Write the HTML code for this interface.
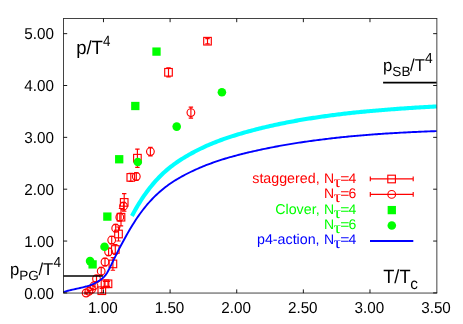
<!DOCTYPE html>
<html><head><meta charset="utf-8"><title>p/T^4</title>
<style>html,body{margin:0;padding:0;background:#fff;}svg{display:block;will-change:transform;}text{font-family:"Liberation Sans",sans-serif;text-rendering:geometricPrecision;}</style>
</head><body>
<svg width="463" height="324" viewBox="0 0 463 324">
<rect x="0" y="0" width="463" height="324" fill="#fff"/>
<polyline points="131.9,215.97 133.4,213.19 134.9,210.48 136.4,207.86 137.9,205.32 139.4,202.86 140.9,200.49 142.4,198.19 143.9,195.96 145.4,193.81 146.9,191.74 148.4,189.73 149.9,187.79 151.4,185.92 152.9,184.11 154.4,182.37 155.9,180.68 157.4,179.06 158.9,177.49 160.4,175.97 161.9,174.51 163.4,173.09 164.9,171.73 166.4,170.41 167.9,169.13 169.4,167.90 170.9,166.71 172.4,165.55 173.9,164.44 175.4,163.35 176.9,162.30 178.4,161.28 179.9,160.29 181.4,159.32 182.9,158.38 184.4,157.46 185.9,156.56 187.4,155.68 188.9,154.82 190.4,153.97 191.9,153.14 193.4,152.33 194.9,151.54 196.4,150.76 197.9,150.00 199.4,149.25 200.9,148.52 202.4,147.80 203.9,147.10 205.4,146.41 206.9,145.74 208.4,145.08 209.9,144.43 211.4,143.80 212.9,143.18 214.4,142.57 215.9,141.98 217.4,141.40 218.9,140.82 220.4,140.26 221.9,139.71 223.4,139.17 224.9,138.64 226.4,138.13 227.9,137.62 229.4,137.12 230.9,136.62 232.4,136.14 233.9,135.67 235.4,135.20 236.9,134.74 238.4,134.29 239.9,133.85 241.4,133.41 242.9,132.98 244.4,132.56 245.9,132.14 247.4,131.72 248.9,131.31 250.4,130.91 251.9,130.51 253.4,130.12 254.9,129.73 256.4,129.34 257.9,128.96 259.4,128.59 260.9,128.22 262.4,127.85 263.9,127.49 265.4,127.13 266.9,126.78 268.4,126.43 269.9,126.09 271.4,125.75 272.9,125.41 274.4,125.08 275.9,124.76 277.4,124.43 278.9,124.12 280.4,123.80 281.9,123.49 283.4,123.19 284.9,122.89 286.4,122.59 287.9,122.30 289.4,122.01 290.9,121.72 292.4,121.44 293.9,121.16 295.4,120.89 296.9,120.62 298.4,120.35 299.9,120.09 301.4,119.83 302.9,119.58 304.4,119.33 305.9,119.08 307.4,118.84 308.9,118.60 310.4,118.36 311.9,118.13 313.4,117.90 314.9,117.68 316.4,117.45 317.9,117.23 319.4,117.02 320.9,116.80 322.4,116.58 323.9,116.36 325.4,116.14 326.9,115.93 328.4,115.72 329.9,115.52 331.4,115.32 332.9,115.12 334.4,114.92 335.9,114.73 337.4,114.54 338.9,114.35 340.4,114.17 341.9,113.99 343.4,113.81 344.9,113.63 346.4,113.46 347.9,113.29 349.4,113.13 350.9,112.96 352.4,112.80 353.9,112.64 355.4,112.49 356.9,112.33 358.4,112.18 359.9,112.03 361.4,111.89 362.9,111.74 364.4,111.60 365.9,111.47 367.4,111.33 368.9,111.20 370.4,111.07 371.9,110.94 373.4,110.81 374.9,110.69 376.4,110.56 377.9,110.44 379.4,110.33 380.9,110.20 382.4,110.07 383.9,109.94 385.4,109.81 386.9,109.69 388.4,109.57 389.9,109.44 391.4,109.33 392.9,109.21 394.4,109.09 395.9,108.98 397.4,108.87 398.9,108.76 400.4,108.65 401.9,108.54 403.4,108.44 404.9,108.34 406.4,108.23 407.9,108.13 409.4,108.03 410.9,107.94 412.4,107.84 413.9,107.75 415.4,107.66 416.9,107.56 418.4,107.48 419.9,107.39 421.4,107.30 422.9,107.21 424.4,107.13 425.9,107.05 427.4,106.96 428.9,106.88 430.4,106.80 431.9,106.72 433.4,106.65 434.9,106.57 436.4,106.49 436.6,106.48" fill="none" stroke="#00ffff" stroke-width="4.1" stroke-linejoin="round"/>
<g stroke="#ff0000" stroke-width="1.15" fill="none">
<rect x="98.00" y="286.90" width="7.60" height="7.60"/><path d="M101.80 288.50 V292.90 M99.60 288.50 h4.40 M99.60 292.90 h4.40"/>
<rect x="101.20" y="280.00" width="7.60" height="7.60"/><path d="M105.00 281.30 V286.30 M102.80 281.30 h4.40 M102.80 286.30 h4.40"/>
<rect x="104.20" y="280.00" width="7.60" height="7.60"/><path d="M108.00 281.30 V286.30 M105.80 281.30 h4.40 M105.80 286.30 h4.40"/>
<rect x="109.10" y="260.10" width="7.60" height="7.60"/><path d="M112.90 257.60 V270.20 M110.70 257.60 h4.40 M110.70 270.20 h4.40"/>
<rect x="111.50" y="245.70" width="7.60" height="7.60"/><path d="M115.30 244.50 V254.50 M113.10 244.50 h4.40 M113.10 254.50 h4.40"/>
<rect x="114.70" y="230.20" width="7.60" height="7.60"/><path d="M118.50 227.00 V241.00 M116.30 227.00 h4.40 M116.30 241.00 h4.40"/>
<rect x="117.20" y="213.40" width="7.60" height="7.60"/><path d="M121.00 208.50 V225.90 M118.80 208.50 h4.40 M118.80 225.90 h4.40"/>
<rect x="120.40" y="198.60" width="7.60" height="7.60"/><path d="M124.20 193.60 V211.20 M122.00 193.60 h4.40 M122.00 211.20 h4.40"/>
<rect x="127.00" y="173.60" width="7.60" height="7.60"/><path d="M130.80 173.40 V181.40 M128.60 173.40 h4.40 M128.60 181.40 h4.40"/>
<rect x="133.60" y="154.40" width="7.60" height="7.60"/><path d="M137.40 149.10 V167.30 M135.20 149.10 h4.40 M135.20 167.30 h4.40"/>
<rect x="164.70" y="68.50" width="7.60" height="7.60"/><path d="M168.50 67.80 V76.80 M166.30 67.80 h4.40 M166.30 76.80 h4.40"/>
<rect x="203.70" y="37.40" width="7.60" height="7.60"/><path d="M207.50 38.60 V43.80 M205.30 38.60 h4.40 M205.30 43.80 h4.40"/>
<circle cx="86.10" cy="293.00" r="3.85"/><path d="M86.10 292.20 V293.80 M83.90 292.20 h4.40 M83.90 293.80 h4.40"/>
<circle cx="88.90" cy="291.30" r="3.85"/><path d="M88.90 290.50 V292.10 M86.70 290.50 h4.40 M86.70 292.10 h4.40"/>
<circle cx="91.60" cy="289.30" r="3.85"/><path d="M91.60 288.50 V290.10 M89.40 288.50 h4.40 M89.40 290.10 h4.40"/>
<circle cx="94.00" cy="285.80" r="3.85"/><path d="M94.00 284.80 V286.80 M91.80 284.80 h4.40 M91.80 286.80 h4.40"/>
<circle cx="96.50" cy="278.70" r="3.85"/><path d="M96.50 275.70 V281.70 M94.30 275.70 h4.40 M94.30 281.70 h4.40"/>
<circle cx="101.20" cy="271.20" r="3.85"/><path d="M101.20 267.40 V275.00 M99.00 267.40 h4.40 M99.00 275.00 h4.40"/>
<circle cx="105.00" cy="262.00" r="3.85"/><path d="M105.00 258.20 V265.80 M102.80 258.20 h4.40 M102.80 265.80 h4.40"/>
<circle cx="108.60" cy="251.80" r="3.85"/><path d="M108.60 248.00 V255.60 M106.40 248.00 h4.40 M106.40 255.60 h4.40"/>
<circle cx="111.70" cy="240.10" r="3.85"/><path d="M111.70 236.30 V243.90 M109.50 236.30 h4.40 M109.50 243.90 h4.40"/>
<circle cx="115.70" cy="228.20" r="3.85"/><path d="M115.70 224.40 V232.00 M113.50 224.40 h4.40 M113.50 232.00 h4.40"/>
<circle cx="119.80" cy="217.20" r="3.85"/><path d="M119.80 213.40 V221.00 M117.60 213.40 h4.40 M117.60 221.00 h4.40"/>
<circle cx="123.50" cy="206.20" r="3.85"/><path d="M123.50 202.40 V210.00 M121.30 202.40 h4.40 M121.30 210.00 h4.40"/>
<circle cx="136.30" cy="176.50" r="3.85"/><path d="M136.30 172.70 V180.30 M134.10 172.70 h4.40 M134.10 180.30 h4.40"/>
<circle cx="150.40" cy="151.60" r="3.85"/><path d="M150.40 147.30 V155.90 M148.20 147.30 h4.40 M148.20 155.90 h4.40"/>
<circle cx="190.90" cy="112.60" r="3.85"/><path d="M190.90 107.10 V118.10 M188.70 107.10 h4.40 M188.70 118.10 h4.40"/>
</g>
<g fill="#00ff00">
<rect x="88.45" y="260.25" width="8.3" height="8.3"/>
<rect x="103.20" y="212.45" width="8.3" height="8.3"/>
<rect x="115.05" y="155.10" width="8.3" height="8.3"/>
<rect x="131.15" y="101.85" width="8.3" height="8.3"/>
<rect x="152.35" y="47.45" width="8.3" height="8.3"/>
<circle cx="90.06" cy="261.10" r="4.3"/>
<circle cx="104.50" cy="246.70" r="4.3"/>
<circle cx="137.80" cy="162.00" r="4.3"/>
<circle cx="176.70" cy="126.60" r="4.3"/>
<circle cx="221.90" cy="92.20" r="4.3"/>
</g>
<path d="M383.1 82.65 H436.6" stroke="#000" stroke-width="1.7"/>
<path d="M63.5 276.0 H102.9" stroke="#000" stroke-width="1.5"/>
<polyline points="63.5,292.06 65.0,291.57 66.5,291.12 68.0,290.71 69.5,290.33 71.0,289.97 72.5,289.63 74.0,289.31 75.5,288.99 77.0,288.67 78.5,288.35 80.0,288.02 81.5,287.68 83.0,287.32 84.5,286.93 86.0,286.51 87.5,286.06 89.0,285.56 90.5,285.02 92.0,284.43 93.5,283.77 95.0,283.06 96.5,282.28 98.0,281.42 99.5,280.48 101.0,279.46 102.5,278.28 104.0,276.87 105.5,275.12 107.0,272.95 108.5,270.34 110.0,267.39 111.5,264.34 113.0,261.21 114.5,258.11 116.0,255.06 117.5,252.07 119.0,249.14 120.5,246.26 122.0,243.45 123.5,240.70 125.0,238.01 126.5,235.28 128.0,232.62 129.5,230.02 131.0,227.49 132.5,225.03 134.0,222.63 135.5,220.31 137.0,218.06 138.5,215.88 140.0,213.77 141.5,211.73 143.0,209.75 144.5,207.84 146.0,206.00 147.5,204.22 149.0,202.50 150.5,200.83 152.0,199.23 153.5,197.68 155.0,196.18 156.5,194.73 158.0,193.34 159.5,191.99 161.0,190.69 162.5,189.44 164.0,188.22 165.5,187.05 167.0,185.92 168.5,184.82 170.0,183.77 171.5,182.74 173.0,181.75 174.5,180.79 176.0,179.86 177.5,178.95 179.0,178.08 180.5,177.22 182.0,176.39 183.5,175.58 185.0,174.78 186.5,174.01 188.0,173.25 189.5,172.50 191.0,171.77 192.5,171.06 194.0,170.35 195.5,169.67 197.0,169.00 198.5,168.34 200.0,167.69 201.5,167.06 203.0,166.44 204.5,165.84 206.0,165.24 207.5,164.66 209.0,164.09 210.5,163.54 212.0,162.99 213.5,162.45 215.0,161.93 216.5,161.42 218.0,160.91 219.5,160.42 221.0,159.93 222.5,159.46 224.0,158.99 225.5,158.53 227.0,158.09 228.5,157.64 230.0,157.21 231.5,156.79 233.0,156.37 234.5,155.96 236.0,155.56 237.5,155.16 239.0,154.77 240.5,154.38 242.0,154.01 243.5,153.63 245.0,153.26 246.5,152.90 248.0,152.54 249.5,152.19 251.0,151.84 252.5,151.49 254.0,151.15 255.5,150.81 257.0,150.48 258.5,150.15 260.0,149.82 261.5,149.50 263.0,149.18 264.5,148.87 266.0,148.56 267.5,148.26 269.0,147.95 270.5,147.65 272.0,147.36 273.5,147.07 275.0,146.78 276.5,146.50 278.0,146.22 279.5,145.94 281.0,145.67 282.5,145.40 284.0,145.14 285.5,144.88 287.0,144.62 288.5,144.37 290.0,144.11 291.5,143.87 293.0,143.62 294.5,143.38 296.0,143.15 297.5,142.91 299.0,142.68 300.5,142.45 302.0,142.23 303.5,142.01 305.0,141.79 306.5,141.58 308.0,141.37 309.5,141.16 311.0,140.95 312.5,140.75 314.0,140.55 315.5,140.36 317.0,140.16 318.5,139.97 320.0,139.79 321.5,139.59 323.0,139.40 324.5,139.21 326.0,139.02 327.5,138.84 329.0,138.66 330.5,138.48 332.0,138.31 333.5,138.13 335.0,137.96 336.5,137.79 338.0,137.63 339.5,137.47 341.0,137.31 342.5,137.15 344.0,137.00 345.5,136.84 347.0,136.69 348.5,136.55 350.0,136.40 351.5,136.26 353.0,136.12 354.5,135.98 356.0,135.85 357.5,135.71 359.0,135.58 360.5,135.45 362.0,135.33 363.5,135.20 365.0,135.08 366.5,134.96 368.0,134.84 369.5,134.73 371.0,134.61 372.5,134.50 374.0,134.39 375.5,134.28 377.0,134.18 378.5,134.07 380.0,133.97 381.5,133.87 383.0,133.76 384.5,133.66 386.0,133.57 387.5,133.47 389.0,133.37 390.5,133.28 392.0,133.19 393.5,133.10 395.0,133.01 396.5,132.93 398.0,132.84 399.5,132.76 401.0,132.67 402.5,132.59 404.0,132.52 405.5,132.44 407.0,132.36 408.5,132.29 410.0,132.21 411.5,132.14 413.0,132.07 414.5,132.00 416.0,131.93 417.5,131.86 419.0,131.80 420.5,131.73 422.0,131.67 423.5,131.61 425.0,131.54 426.5,131.48 428.0,131.42 429.5,131.36 431.0,131.31 432.5,131.25 434.0,131.19 435.5,131.14 436.6,131.10" fill="none" stroke="#0000ff" stroke-width="1.9" stroke-linejoin="round"/>
<g stroke="#000" stroke-width="0.9" fill="none">
<path stroke-width="0.74" d="M63.10 18.50 H437.25 M63.10 293.05 H437.25 M63.50 18.50 V293.05 M436.85 18.50 V293.05"/>
<path d="M63.5 292.90 h3.7 M436.85 292.90 h-3.7"/>
<path d="M63.5 241.05 h3.7 M436.85 241.05 h-3.7"/>
<path d="M63.5 189.20 h3.7 M436.85 189.20 h-3.7"/>
<path d="M63.5 137.35 h3.7 M436.85 137.35 h-3.7"/>
<path d="M63.5 85.50 h3.7 M436.85 85.50 h-3.7"/>
<path d="M63.5 33.65 h3.7 M436.85 33.65 h-3.7"/>
<path d="M103.48 293.1 v-3.7 M103.48 18.5 v3.7"/>
<path d="M170.10 293.1 v-3.7 M170.10 18.5 v3.7"/>
<path d="M236.73 293.1 v-3.7 M236.73 18.5 v3.7"/>
<path d="M303.35 293.1 v-3.7 M303.35 18.5 v3.7"/>
<path d="M369.98 293.1 v-3.7 M369.98 18.5 v3.7"/>
</g>
<g font-size="15.8" fill="#000">
<text transform="translate(53.9 298.55) scale(0.965 1)" text-anchor="end">0.00</text>
<text transform="translate(53.9 246.70) scale(0.965 1)" text-anchor="end">1.00</text>
<text transform="translate(53.9 194.85) scale(0.965 1)" text-anchor="end">2.00</text>
<text transform="translate(53.9 143.00) scale(0.965 1)" text-anchor="end">3.00</text>
<text transform="translate(53.9 91.15) scale(0.965 1)" text-anchor="end">4.00</text>
<text transform="translate(53.9 39.30) scale(0.965 1)" text-anchor="end">5.00</text>
<text transform="translate(102.88 313.1) scale(0.965 1)" text-anchor="middle">1.00</text>
<text transform="translate(169.50 313.1) scale(0.965 1)" text-anchor="middle">1.50</text>
<text transform="translate(236.13 313.1) scale(0.965 1)" text-anchor="middle">2.00</text>
<text transform="translate(302.75 313.1) scale(0.965 1)" text-anchor="middle">2.50</text>
<text transform="translate(369.38 313.1) scale(0.965 1)" text-anchor="middle">3.00</text>
<text transform="translate(436.00 313.1) scale(0.965 1)" text-anchor="middle">3.50</text>
</g>
<g fill="#000">
<text transform="translate(76.15 54.45) scale(0.970 1)" font-size="19.10">p/T</text>
<text transform="translate(103.12 45.55) scale(0.890 1)" font-size="15.00">4</text>
</g>
<g fill="#000">
<text transform="translate(383.10 70.60) scale(0.970 1)" font-size="17.19">p</text>
<text transform="translate(392.37 76.09) scale(1.020 1)" font-size="13.32">SB</text>
<text transform="translate(410.10 70.60) scale(0.970 1)" font-size="17.19">/T</text>
<text transform="translate(425.12 62.77) scale(0.950 1)" font-size="14.49">4</text>
</g>
<g fill="#000">
<text transform="translate(9.90 274.80) scale(0.970 1)" font-size="17.19">p</text>
<text transform="translate(19.17 280.29) scale(1.020 1)" font-size="13.32">PG</text>
<text transform="translate(38.40 274.80) scale(0.970 1)" font-size="17.19">/T</text>
<text transform="translate(53.42 266.97) scale(0.950 1)" font-size="14.49">4</text>
</g>
<g fill="#000">
<text transform="translate(383.20 282.70) scale(0.955 1)" font-size="19.10">T/T</text>
<text transform="translate(410.35 288.80) scale(0.980 1)" font-size="15.60">c</text>
</g>
<g font-size="14">
<g fill="#ff0000">
<text x="319.6" y="182.80" text-anchor="end" font-size="14.25">staggered,</text>
<text x="324.0" y="182.80">N</text>
<text transform="translate(333.4 186.70) scale(1.12 1)" font-size="16.5" style="font-family:'Liberation Serif',serif">&#964;</text>
<text transform="translate(340.35 182.80) scale(1.12 1)">=</text>
<text x="348.5" y="182.80">4</text>
</g>
<g fill="#ff0000">
<text x="324.0" y="198.20">N</text>
<text transform="translate(333.4 202.10) scale(1.12 1)" font-size="16.5" style="font-family:'Liberation Serif',serif">&#964;</text>
<text transform="translate(340.35 198.20) scale(1.12 1)">=</text>
<text x="348.5" y="198.20">6</text>
</g>
<g fill="#00ff00">
<text x="319.6" y="213.60" text-anchor="end" font-size="14.25">Clover,</text>
<text x="324.0" y="213.60">N</text>
<text transform="translate(333.4 217.50) scale(1.12 1)" font-size="16.5" style="font-family:'Liberation Serif',serif">&#964;</text>
<text transform="translate(340.35 213.60) scale(1.12 1)">=</text>
<text x="348.5" y="213.60">4</text>
</g>
<g fill="#00ff00">
<text x="324.0" y="229.00">N</text>
<text transform="translate(333.4 232.90) scale(1.12 1)" font-size="16.5" style="font-family:'Liberation Serif',serif">&#964;</text>
<text transform="translate(340.35 229.00) scale(1.12 1)">=</text>
<text x="348.5" y="229.00">6</text>
</g>
<g fill="#0000ff">
<text x="319.6" y="244.40" text-anchor="end" font-size="14.25">p4-action,</text>
<text x="324.0" y="244.40">N</text>
<text transform="translate(333.4 248.30) scale(1.12 1)" font-size="16.5" style="font-family:'Liberation Serif',serif">&#964;</text>
<text transform="translate(340.35 244.40) scale(1.12 1)">=</text>
<text x="348.5" y="244.40">4</text>
</g>
</g>
<g stroke="#ff0000" stroke-width="1.15" fill="none">
<path d="M370.3 178.9 H413.2 M370.3 176.6 v4.6 M413.2 176.6 v4.6"/><rect x="387.80" y="175.20" width="7.60" height="7.60"/>
<path d="M370.3 194.4 H413.2 M370.3 192.1 v4.6 M413.2 192.1 v4.6"/><circle cx="391.7" cy="194.4" r="3.85"/>
</g>
<rect x="387.65" y="205.95" width="8.3" height="8.3" fill="#00ff00"/>
<circle cx="391.8" cy="225.5" r="4.3" fill="#00ff00"/>
<path d="M370 240.9 H413.3" stroke="#0000ff" stroke-width="2"/>
</svg></body></html>
